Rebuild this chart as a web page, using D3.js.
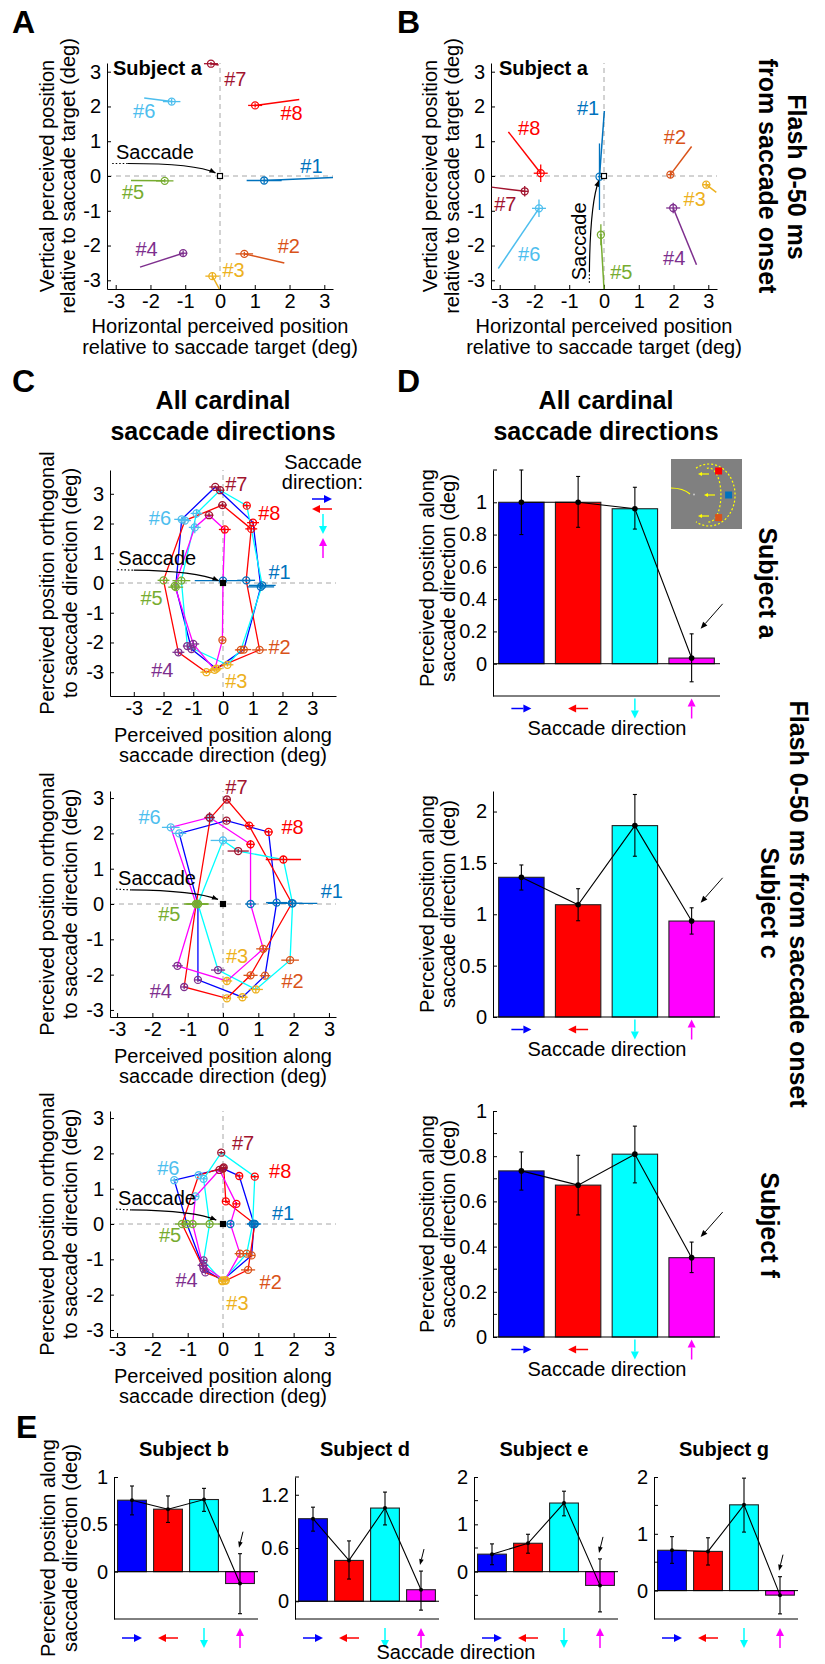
<!DOCTYPE html>
<html>
<head>
<meta charset="utf-8">
<script src="https://cdn.jsdelivr.net/npm/d3@7"></script>
<style>body{margin:0;background:#fff}</style>
</head>
<body>
<div id="fig"></div>
<script>
var W = 825, H = 1664;
var FONT = "'Liberation Sans', Arial, Helvetica, sans-serif";

// ---- shared categories ----
var targetNames = ["#1", "#2", "#3", "#4", "#5", "#6", "#7", "#8"];
var targetColors = ["#0072BD", "#D95319", "#EDB120", "#7E2F8E", "#77AC30", "#4DBEEE", "#A2142F", "#FF0000"];
var dirNames = ["right", "left", "down", "up"];
var dirColors = ["#0000FF", "#FF0000", "#00FFFF", "#FF00FF"];
var scatterTicks = [-3, -2, -1, 0, 1, 2, 3];

// ---- panel A: subject a, rightward saccade ----
var aPos = [[1.27, -0.13], [0.70, -2.24], [-0.22, -2.88], [-1.06, -2.22], [-1.59, -0.14], [-1.39, 2.14], [-0.26, 3.23], [1.01, 2.03]];
var aEnd = [[3.25, -0.04], [1.85, -2.5], [-0.02, -3.25], [-2.3, -2.62], [-2.56, -0.13], [-2.18, 2.24], [-0.04, 3.19], [2.28, 2.2]];
var aErr = [[0.5, 0.08], [0.25, 0.06], [0.2, 0.1], [0.12, 0.08], [0.25, 0.05], [0.25, 0.08], [0.2, 0.05], [0.2, 0.06]];
var aLabels = [[2.63, 0.30], [1.98, -2.02], [0.39, -2.71], [-2.11, -2.09], [-2.5, -0.47], [-2.18, 1.87], [0.44, 2.78], [2.06, 1.8]];

// ---- panel B: subject a, upward saccade ----
var bPos = [[-0.13, -0.02], [1.91, 0.04], [2.94, -0.25], [1.99, -0.92], [-0.09, -1.69], [-1.87, -0.93], [-2.28, -0.44], [-1.82, 0.08]];
var bEnd = [[0.01, 1.87], [2.52, 0.85], [3.23, -0.47], [2.66, -2.55], [0.0, -3.25], [-3.04, -2.66], [-3.23, -0.32], [-2.75, 1.27]];
var bErr = [[0.05, 0.95], [0.08, 0.1], [0.12, 0.08], [0.2, 0.15], [0.04, 0.3], [0.2, 0.25], [0.1, 0.15], [0.2, 0.25]];
var bLabels = [[-0.46, 1.97], [2.04, 1.11], [2.61, -0.66], [2.02, -2.36], [0.5, -2.76], [-2.15, -2.24], [-2.84, -0.80], [-2.15, 1.37]];

// ---- panel C: [along, orthogonal, errAlong, errOrth] per target #1..#8 ----
var c1Right = [[1.27, -0.13, 0.45, 0.08], [0.70, -2.24, 0.25, 0.06], [-0.22, -2.88, 0.2, 0.1], [-1.06, -2.22, 0.15, 0.08], [-1.59, -0.14, 0.25, 0.05], [-1.39, 2.14, 0.25, 0.08], [-0.26, 3.23, 0.2, 0.05], [1.01, 2.03, 0.2, 0.06]];
var c1Left = [[0.78, 0.09, 0.3, 0.06], [1.23, -2.25, 0.25, 0.06], [-0.56, -3.0, 0.2, 0.06], [-1.5, -2.33, 0.2, 0.1], [-2.0, 0.09, 0.2, 0.05], [-1.28, 2.1, 0.2, 0.1], [-0.02, 2.62, 0.15, 0.08], [0.95, 1.82, 0.2, 0.1]];
var c1Down = [[1.32, -0.08, 0.45, 0.08], [0.6, -2.25, 0.2, 0.08], [0.15, -2.75, 0.2, 0.06], [-1.2, -2.12, 0.15, 0.08], [-1.4, 0.08, 0.3, 0.1], [-0.89, 2.34, 0.2, 0.15], [-0.1, 3.12, 0.15, 0.08], [0.8, 2.6, 0.1, 0.08]];
var c1Up = [[0.0, 0.08, 0.95, 0.1], [-0.02, -1.92, 0.1, 0.08], [-0.28, -2.92, 0.2, 0.06], [-1.0, -2.05, 0.2, 0.12], [-1.62, -0.1, 0.15, 0.15], [-0.95, 1.87, 0.2, 0.2], [-0.47, 2.28, 0.15, 0.08], [0.06, 1.8, 0.2, 0.1]];
var c1Labels = [[1.9, 0.37], [1.9, -2.14], [0.45, -3.31], [-2.04, -2.92], [-2.4, -0.49], [-2.12, 2.2], [0.45, 3.32], [1.56, 2.37]];

var c2Right = [[1.52, 0.04, 0.3, 0.05], [1.19, -2.03, 0.15, 0.08], [0.55, -2.64, 0.15, 0.06], [-0.71, -2.15, 0.1, 0.06], [-0.71, 0.0, 0.3, 0.06], [-1.24, 2.0, 0.2, 0.06], [0.1, 2.36, 0.12, 0.06], [1.29, 2.04, 0.12, 0.06]];
var c2Left = [[1.95, 0.02, 0.3, 0.05], [0.78, -2.02, 0.2, 0.08], [0.11, -2.67, 0.12, 0.06], [-1.1, -2.35, 0.1, 0.06], [-0.76, 0.0, 0.35, 0.1], [-0.36, 2.43, 0.1, 0.08], [0.11, 2.96, 0.1, 0.06], [0.74, 2.22, 0.15, 0.08]];
var c2Down = [[1.97, 0.02, 0.7, 0.08], [1.9, -1.59, 0.25, 0.08], [0.93, -2.42, 0.2, 0.1], [-0.14, -1.87, 0.2, 0.06], [-0.71, 0.0, 0.3, 0.1], [0.0, 1.8, 0.35, 0.1], [0.43, 1.5, 0.3, 0.06], [1.71, 1.26, 0.5, 0.1]];
var c2Up = [[0.78, 0.0, 0.15, 0.05], [1.14, -1.27, 0.2, 0.1], [0.11, -2.18, 0.15, 0.08], [-1.29, -1.75, 0.15, 0.06], [-0.76, 0.0, 0.3, 0.1], [-1.48, 2.17, 0.25, 0.06], [-0.38, 2.45, 0.15, 0.15], [0.78, 1.69, 0.12, 0.12]];
var c2Labels = [[3.08, 0.37], [1.97, -2.18], [0.4, -1.46], [-1.76, -2.46], [-1.52, -0.29], [-2.08, 2.45], [0.38, 3.31], [1.97, 2.17]];

var c3Right = [[0.88, 0.0, 0.2, 0.05], [0.81, -0.89, 0.1, 0.06], [-0.02, -1.6, 0.1, 0.05], [-0.55, -1.27, 0.1, 0.1], [-1.02, 0.0, 0.2, 0.05], [-1.38, 1.24, 0.1, 0.06], [0.0, 1.57, 0.1, 0.05], [0.46, 1.36, 0.1, 0.05]];
var c3Left = [[0.9, 0.0, 0.15, 0.05], [0.71, -1.3, 0.2, 0.05], [0.08, -1.6, 0.1, 0.05], [-0.5, -1.37, 0.1, 0.06], [-1.16, 0.0, 0.2, 0.05], [-0.69, 1.38, 0.1, 0.05], [0.02, 1.6, 0.1, 0.05], [0.08, 0.64, 0.1, 0.05]];
var c3Down = [[0.84, 0.0, 0.15, 0.05], [0.67, -0.84, 0.15, 0.06], [-0.02, -1.62, 0.1, 0.05], [-0.55, -1.03, 0.1, 0.06], [-0.38, 0.0, 0.4, 0.05], [-0.55, 1.28, 0.1, 0.05], [-0.05, 2.02, 0.08, 0.05], [0.9, 1.34, 0.1, 0.05]];
var c3Up = [[0.21, 0.0, 0.1, 0.05], [0.48, -0.84, 0.15, 0.1], [0.05, -1.6, 0.1, 0.05], [-0.57, -1.17, 0.15, 0.1], [-0.86, 0.0, 0.2, 0.05], [-0.78, 0.78, 0.1, 0.05], [-0.1, 1.53, 0.1, 0.05], [0.38, 0.57, 0.1, 0.05]];
var c3Labels = [[1.7, 0.32], [1.35, -1.63], [0.41, -2.25], [-1.03, -1.59], [-1.5, -0.32], [-1.55, 1.6], [0.57, 2.29], [1.62, 1.5]];

// ---- panels D and E: mean along saccade direction, [low, high] error ----
var d1Mean = [1.0, 1.0, 0.96, 0.035];
var d1Err = [[0.80, 1.20], [0.845, 1.16], [0.834, 1.093], [-0.112, 0.185]];
var d2Mean = [1.36, 1.093, 1.863, 0.934];
var d2Err = [[1.236, 1.48], [0.937, 1.249], [1.565, 2.166], [0.807, 1.063]];
var d3Mean = [0.735, 0.672, 0.809, 0.351];
var d3Err = [[0.65, 0.819], [0.54, 0.804], [0.682, 0.933], [0.285, 0.42]];

var eSubjects = ["Subject b", "Subject d", "Subject e", "Subject g"];
var eMean = [[0.755, 0.66, 0.762, -0.125], [0.93, 0.46, 1.05, 0.13], [0.37, 0.60, 1.45, -0.29], [0.71, 0.69, 1.51, -0.08]];
var eErr = [
  [[0.6, 0.905], [0.52, 0.80], [0.637, 0.88], [-0.444, 0.19]],
  [[0.79, 1.06], [0.25, 0.68], [0.86, 1.23], [-0.1, 0.34]],
  [[0.147, 0.587], [0.39, 0.79], [1.18, 1.70], [-0.85, 0.27]],
  [[0.48, 0.95], [0.45, 0.93], [1.03, 1.98], [-0.41, 0.245]]
];
var eDomains = [[-0.5, 1], [-0.2, 1.4], [-1, 2], [-0.5, 2]];
var eTicks = [[0, 0.5, 1], [0, 0.6, 1.2], [0, 1, 2], [0, 1, 2]];
var eMinor = [[], [1.4], [-0.5, 0.5, 1.5], [0.5, 1.5]];

var svg = d3.select("#fig").append("svg")
  .attr("width", W).attr("height", H)
  .style("font-family", FONT);

function styleAxis(sel) {
  sel.attr("font-family", FONT).attr("font-size", 20);
  sel.selectAll("path,line").attr("stroke", "#000").attr("stroke-width", 1);
  sel.selectAll("text").attr("fill", "#000");
}

function txt(x, y, s, size, opt) {
  opt = opt || {};
  var t = svg.append("text").attr("x", x).attr("y", y).text(s)
    .attr("font-size", size)
    .attr("font-weight", opt.bold ? "bold" : "normal")
    .attr("text-anchor", opt.anchor || "start")
    .attr("fill", opt.color || "#000");
  if (opt.rot) {
    t.attr("transform", "rotate(" + opt.rot + "," + x + "," + y + ")")
     .attr("dominant-baseline", "central");
  }
  return t;
}

function arrow(g, x1, y1, x2, y2, color, w, hl, hw) {
  var a = Math.atan2(y2 - y1, x2 - x1);
  var bx = x2 - hl * Math.cos(a), by = y2 - hl * Math.sin(a);
  g.append("line").attr("x1", x1).attr("y1", y1).attr("x2", bx).attr("y2", by)
    .attr("stroke", color).attr("stroke-width", w);
  g.append("path")
    .attr("d", "M" + x2 + "," + y2 +
      "L" + (bx + hw * Math.sin(a)) + "," + (by - hw * Math.cos(a)) +
      "L" + (bx - hw * Math.sin(a)) + "," + (by + hw * Math.cos(a)) + "Z")
    .attr("fill", color);
}

function dirArrow(g, i, cx, cy, len) {
  var h = len / 2, c = dirColors[i];
  if (i == 0) arrow(g, cx - h, cy, cx + h, cy, c, 1.5, 8, 4);
  if (i == 1) arrow(g, cx + h, cy, cx - h, cy, c, 1.5, 8, 4);
  if (i == 2) arrow(g, cx, cy - h, cx, cy + h, c, 1.5, 8, 4);
  if (i == 3) arrow(g, cx, cy + h, cx, cy - h, c, 1.5, 8, 4);
}

// scatter frame with dashed zero lines and inward ticks
function scatterFrame(box, dom) {
  var x = d3.scaleLinear().domain(dom).range([box.x0, box.x1]);
  var y = d3.scaleLinear().domain(dom).range([box.y1, box.y0]);
  var g = svg.append("g");
  g.append("line").attr("x1", x(dom[0])).attr("x2", x(dom[1])).attr("y1", y(0)).attr("y2", y(0))
    .attr("stroke", "#a6a6a6").attr("stroke-dasharray", "5,4");
  g.append("line").attr("x1", x(0)).attr("x2", x(0)).attr("y1", y(dom[0])).attr("y2", y(dom[1]))
    .attr("stroke", "#a6a6a6").attr("stroke-dasharray", "5,4");
  g.append("g").attr("transform", "translate(0," + box.y1 + ")")
    .call(d3.axisBottom(x).tickValues(scatterTicks).tickFormat(String)
      .tickSizeInner(-4).tickSizeOuter(0).tickPadding(5))
    .call(styleAxis);
  g.append("g").attr("transform", "translate(" + box.x0 + ",0)")
    .call(d3.axisLeft(y).tickValues(scatterTicks).tickFormat(String)
      .tickSizeInner(-4).tickSizeOuter(0).tickPadding(6))
    .call(styleAxis);
  return { g: g, x: x, y: y };
}

function marker(g, px, py, ex, ey, color) {
  g.append("line").attr("x1", px - ex).attr("x2", px + ex).attr("y1", py).attr("y2", py)
    .attr("stroke", color).attr("stroke-width", 1.3);
  g.append("line").attr("x1", px).attr("x2", px).attr("y1", py - ey).attr("y2", py + ey)
    .attr("stroke", color).attr("stroke-width", 1.3);
  g.append("circle").attr("cx", px).attr("cy", py).attr("r", 3.5)
    .attr("fill", "none").attr("stroke", color).attr("stroke-width", 1.3);
}

function targetLabels(fr, labels) {
  labels.forEach(function(p, i) {
    fr.g.append("text").attr("x", fr.x(p[0])).attr("y", fr.y(p[1]))
      .attr("text-anchor", "middle").attr("dominant-baseline", "central")
      .attr("font-size", 20).attr("fill", targetColors[i]).text(targetNames[i]);
  });
}

function originSquare(fr, filled) {
  fr.g.append("rect").attr("x", fr.x(0) - 2.5).attr("y", fr.y(0) - 2.5)
    .attr("width", 5).attr("height", 5)
    .attr("fill", filled ? "#000" : "#fff").attr("stroke", "#000").attr("stroke-width", 1.2);
}

// "Saccade" annotation: dotted start, curved solid line with arrowhead
function saccadeNote(fr, dot0, dot1, ctrl, end) {
  var g = fr.g, x = fr.x, y = fr.y;
  g.append("line").attr("x1", x(dot0[0])).attr("y1", y(dot0[1])).attr("x2", x(dot1[0])).attr("y2", y(dot1[1]))
    .attr("stroke", "#000").attr("stroke-width", 1.2).attr("stroke-dasharray", "1.5,2");
  var ex = x(end[0]), ey = y(end[1]), cx = x(ctrl[0]), cy = y(ctrl[1]);
  g.append("path")
    .attr("d", "M" + x(dot1[0]) + "," + y(dot1[1]) + "Q" + cx + "," + cy + " " + ex + "," + ey)
    .attr("fill", "none").attr("stroke", "#000").attr("stroke-width", 1.2);
  var a = Math.atan2(ey - cy, ex - cx), hl = 6, hw = 2.5;
  var bx = ex - hl * Math.cos(a), by = ey - hl * Math.sin(a);
  g.append("path").attr("d", "M" + ex + "," + ey +
      "L" + (bx + hw * Math.sin(a)) + "," + (by - hw * Math.cos(a)) +
      "L" + (bx - hw * Math.sin(a)) + "," + (by + hw * Math.cos(a)) + "Z")
    .attr("fill", "#000");
}

// ---------- Panel A ----------
var frA = scatterFrame({ x0: 107, x1: 333, y0: 63, y1: 289 }, [-3.25, 3.25]);
aPos.forEach(function(p, i) {
  frA.g.append("line").attr("x1", frA.x(p[0])).attr("y1", frA.y(p[1]))
    .attr("x2", frA.x(aEnd[i][0])).attr("y2", frA.y(aEnd[i][1]))
    .attr("stroke", targetColors[i]).attr("stroke-width", 1.5);
});
aPos.forEach(function(p, i) {
  marker(frA.g, frA.x(p[0]), frA.y(p[1]), aErr[i][0] * 35, aErr[i][1] * 35, targetColors[i]);
});
targetLabels(frA, aLabels);
originSquare(frA, false);
saccadeNote(frA, [-3.1, 0.36], [-2.66, 0.36], [-0.7, 0.36], [-0.13, 0.09]);
frA.g.append("text").attr("x", frA.x(-2.99)).attr("y", frA.y(0.49)).attr("font-size", 20).text("Saccade");
txt(113, 75, "Subject a", 20, { bold: true });

// ---------- Panel B ----------
var frB = scatterFrame({ x0: 491, x1: 717, y0: 63, y1: 289 }, [-3.25, 3.25]);
bPos.forEach(function(p, i) {
  frB.g.append("line").attr("x1", frB.x(p[0])).attr("y1", frB.y(p[1]))
    .attr("x2", frB.x(bEnd[i][0])).attr("y2", frB.y(bEnd[i][1]))
    .attr("stroke", targetColors[i]).attr("stroke-width", 1.5);
});
bPos.forEach(function(p, i) {
  marker(frB.g, frB.x(p[0]), frB.y(p[1]), bErr[i][0] * 35, bErr[i][1] * 35, targetColors[i]);
});
targetLabels(frB, bLabels);
originSquare(frB, false);
saccadeNote(frB, [-0.42, -3.07], [-0.42, -2.76], [-0.4, -0.8], [-0.15, -0.13]);
frB.g.append("text").attr("x", frB.x(-0.72)).attr("y", frB.y(-1.88))
  .attr("font-size", 20).attr("text-anchor", "middle").attr("dominant-baseline", "central")
  .attr("transform", "rotate(-90," + frB.x(-0.72) + "," + frB.y(-1.88) + ")").text("Saccade");
txt(499, 75, "Subject a", 20, { bold: true });

// axis titles A/B
[[220, 47, 68], [604, 430, 452]].forEach(function(c) {
  txt(c[0], 333, "Horizontal perceived position", 20, { anchor: "middle" });
  txt(c[0], 354, "relative to saccade target (deg)", 20, { anchor: "middle" });
  txt(c[1], 176, "Vertical perceived position", 20, { anchor: "middle", rot: -90 });
  txt(c[2], 176, "relative to saccade target (deg)", 20, { anchor: "middle", rot: -90 });
});
txt(797, 177, "Flash 0-50 ms", 25, { bold: true, anchor: "middle", rot: 90 });
txt(768, 176, "from saccade onset", 25, { bold: true, anchor: "middle", rot: 90 });

// ---------- Panel C ----------
function cPanel(box, dom, polys, labels, note) {
  var fr = scatterFrame(box, dom);
  var line = d3.line().x(function(d) { return fr.x(d[0]); }).y(function(d) { return fr.y(d[1]); })
    .curve(d3.curveLinearClosed);
  var ppu = (box.x1 - box.x0) / (dom[1] - dom[0]);
  polys.forEach(function(pts, k) {
    fr.g.append("path").attr("d", line(pts)).attr("fill", "none")
      .attr("stroke", dirColors[k]).attr("stroke-width", 1.3);
  });
  polys.forEach(function(pts) {
    pts.forEach(function(p, i) {
      marker(fr.g, fr.x(p[0]), fr.y(p[1]), p[2] * ppu, p[3] * ppu, targetColors[i]);
    });
  });
  targetLabels(fr, labels);
  originSquare(fr, true);
  saccadeNote(fr, note.d0, note.d1, note.c, note.e);
  fr.g.append("text").attr("x", fr.x(note.t[0])).attr("y", fr.y(note.t[1])).attr("font-size", 20).text("Saccade");
  var cy = (box.y0 + box.y1) / 2;
  txt(47, cy, "Perceived position orthogonal", 20, { anchor: "middle", rot: -90 });
  txt(70, cy, "to saccade direction (deg)", 20, { anchor: "middle", rot: -90 });
  txt(223, box.y1 + 46, "Perceived position along", 20, { anchor: "middle" });
  txt(223, box.y1 + 66, "saccade direction (deg)", 20, { anchor: "middle" });
  return fr;
}

cPanel({ x0: 110, x1: 336, y0: 470, y1: 696 }, [-3.8, 3.8], [c1Right, c1Left, c1Down, c1Up], c1Labels,
  { d0: [-3.55, 0.45], d1: [-3.0, 0.43], c: [-0.9, 0.4], e: [-0.15, 0.08], t: [-3.52, 0.62] });
cPanel({ x0: 110, x1: 336, y0: 791, y1: 1017 }, [-3.2, 3.2], [c2Right, c2Left, c2Down, c2Up], c2Labels,
  { d0: [-3.03, 0.42], d1: [-2.6, 0.40], c: [-0.8, 0.38], e: [-0.14, 0.13], t: [-2.97, 0.54] });
cPanel({ x0: 110, x1: 336, y0: 1111, y1: 1337 }, [-3.2, 3.2], [c3Right, c3Left, c3Down, c3Up], c3Labels,
  { d0: [-3.03, 0.42], d1: [-2.6, 0.40], c: [-0.8, 0.38], e: [-0.19, 0.11], t: [-2.97, 0.54] });

// C legend
txt(362, 469, "Saccade", 20, { anchor: "end" });
txt(363, 489, "direction:", 20, { anchor: "end" });
var lg = svg.append("g");
dirArrow(lg, 0, 322, 499, 20);
dirArrow(lg, 1, 322, 509, 20);
dirArrow(lg, 2, 323, 524, 20);
dirArrow(lg, 3, 323, 548, 20);

// titles C/D
[223, 606].forEach(function(cx) {
  txt(cx, 409, "All cardinal", 25, { bold: true, anchor: "middle" });
  txt(cx, 440, "saccade directions", 25, { bold: true, anchor: "middle" });
});

// ---------- bar panels ----------
function barPanel(box, dom, ticks, minor, mean, err, o) {
  var g = svg.append("g");
  var x = d3.scaleBand().domain(dirNames).range([box.x0, box.x1]).paddingInner(0.2).paddingOuter(0.1);
  var y = d3.scaleLinear().domain(dom).range([box.y1, box.y0]);
  g.selectAll("rect.bar").data(mean).enter().append("rect")
    .attr("x", function(d, i) { return x(dirNames[i]); })
    .attr("width", x.bandwidth())
    .attr("y", function(d) { return y(Math.max(d, 0)); })
    .attr("height", function(d) { return Math.abs(y(d) - y(0)); })
    .attr("fill", function(d, i) { return dirColors[i]; })
    .attr("stroke", "#222").attr("stroke-width", 1.1);
  if (dom[0] < 0) {
    g.append("line").attr("x1", box.x0).attr("x2", box.x1).attr("y1", y(0)).attr("y2", y(0))
      .attr("stroke", "#000").attr("stroke-width", 1);
  }
  g.append("line").attr("x1", box.x0).attr("x2", box.x1).attr("y1", box.y1).attr("y2", box.y1)
    .attr("stroke", "#000").attr("stroke-width", 1);
  g.append("g").attr("transform", "translate(" + box.x0 + ",0)")
    .call(d3.axisLeft(y).tickValues(ticks).tickFormat(String)
      .tickSizeInner(-4).tickSizeOuter(0).tickPadding(6))
    .call(styleAxis);
  minor.forEach(function(v) {
    g.append("line").attr("x1", box.x0).attr("x2", box.x0 + 4).attr("y1", y(v)).attr("y2", y(v))
      .attr("stroke", "#000");
  });
  var cx = function(i) { return x(dirNames[i]) + x.bandwidth() / 2; };
  err.forEach(function(e, i) {
    g.append("line").attr("x1", cx(i)).attr("x2", cx(i)).attr("y1", y(e[0])).attr("y2", y(e[1]))
      .attr("stroke", "#000").attr("stroke-width", 1.1);
    [e[0], e[1]].forEach(function(v) {
      g.append("line").attr("x1", cx(i) - 2).attr("x2", cx(i) + 2).attr("y1", y(v)).attr("y2", y(v))
        .attr("stroke", "#000").attr("stroke-width", 1.1);
    });
  });
  g.append("path")
    .attr("d", d3.line().x(function(d, i) { return cx(i); }).y(function(d) { return y(d); })(mean))
    .attr("fill", "none").attr("stroke", "#000").attr("stroke-width", 1.1);
  mean.forEach(function(d, i) {
    g.append("circle").attr("cx", cx(i)).attr("cy", y(d)).attr("r", o.dot).attr("fill", "#000");
  });
  // pointer to the upward-saccade bar
  var tip = [cx(3) + o.tip[0], y(err[3][1]) + o.tip[1]];
  arrow(g, tip[0] + o.from[0], tip[1] + o.from[1], tip[0], tip[1], "#000", 1, o.hl, o.hw);
  for (var i = 0; i < 4; i++) dirArrow(g, i, cx(i), box.y1 + o.arrowY, 20);
  return g;
}

var dOpt = { dot: 2.8, tip: [9, -5], from: [22, -25], hl: 7, hw: 2.8, arrowY: 12.5 };
barPanel({ x0: 493, x1: 720, y0: 470, y1: 696 }, [-0.2, 1.2], [0, 0.2, 0.4, 0.6, 0.8, 1], [1.2], d1Mean, d1Err, dOpt);
barPanel({ x0: 493, x1: 720, y0: 791, y1: 1017 }, [0, 2.2], [0, 0.5, 1, 1.5, 2], [], d2Mean, d2Err, dOpt);
barPanel({ x0: 493, x1: 720, y0: 1111, y1: 1337 }, [0, 1], [0, 0.2, 0.4, 0.6, 0.8, 1], [0.1, 0.3, 0.5, 0.7, 0.9], d3Mean, d3Err, dOpt);

[[696, 578], [1017, 904], [1337, 1224]].forEach(function(c) {
  txt(607, c[0] + 39, "Saccade direction", 20, { anchor: "middle" });
  txt(427, c[1], "Perceived position along", 20, { anchor: "middle", rot: -90 });
  txt(448, c[1], "saccade direction (deg)", 20, { anchor: "middle", rot: -90 });
});
txt(768, 583, "Subject a", 25, { bold: true, anchor: "middle", rot: 90 });
txt(770, 903, "Subject c", 25, { bold: true, anchor: "middle", rot: 90 });
txt(770, 1225, "Subject f", 25, { bold: true, anchor: "middle", rot: 90 });
txt(799, 904, "Flash 0-50 ms from saccade onset", 25, { bold: true, anchor: "middle", rot: 90 });

// inset sketch in D (subject a)
var ins = svg.append("g").attr("transform", "translate(671,459)");
ins.append("rect").attr("width", 71).attr("height", 70).attr("fill", "#808080");
ins.append("path").attr("d", "M25,9.2A26,31 0 1 1 25,62.8")
  .attr("fill", "none").attr("stroke", "#ffff00").attr("stroke-width", 1.2).attr("stroke-dasharray", "2,2");
ins.append("path").attr("d", "M35.9,9.4A12,27 0 1 1 35.9,62.6")
  .attr("fill", "none").attr("stroke", "#ffff00").attr("stroke-width", 1.2).attr("stroke-dasharray", "2,2");
ins.append("path").attr("d", "M0,29Q12,29 19,35").attr("fill", "none").attr("stroke", "#ffff00").attr("stroke-width", 1.2);
ins.append("circle").attr("cx", 23).attr("cy", 35.5).attr("r", 1).attr("fill", "#c8c8c8");
[[38, 15], [44, 36], [38, 57]].forEach(function(p) {
  arrow(ins, p[0], p[1], p[0] - 11, p[1], "#ffff00", 1.2, 4, 2);
});
[[47.6, 12, "#ff0000"], [57.6, 36, "#0072BD"], [47.6, 58.6, "#D95319"]].forEach(function(s) {
  ins.append("rect").attr("x", s[0] - 3.5).attr("y", s[1] - 3.5).attr("width", 7).attr("height", 7).attr("fill", s[2]);
});

// ---------- Panel E ----------
var eBoxes = [114, 295, 474, 654];
var eOpt = { dot: 2, tip: [-1, -6], from: [4, -16], hl: 6, hw: 2.3, arrowY: 19 };
eBoxes.forEach(function(x0, k) {
  barPanel({ x0: x0, x1: x0 + 144, y0: 1477, y1: 1619 }, eDomains[k], eTicks[k], eMinor[k], eMean[k], eErr[k], eOpt);
  txt(x0 + 70, 1456, eSubjects[k], 20, { bold: true, anchor: "middle" });
});
txt(456, 1659, "Saccade direction", 20, { anchor: "middle" });
txt(48, 1548, "Perceived position along", 20, { anchor: "middle", rot: -90 });
txt(70, 1548, "saccade direction (deg)", 20, { anchor: "middle", rot: -90 });

// panel letters
[["A", 12, 33], ["B", 397, 33], ["C", 12, 392], ["D", 397, 392], ["E", 16, 1438]].forEach(function(l) {
  txt(l[1], l[2], l[0], 32, { bold: true });
});
</script>
</body>
</html>
